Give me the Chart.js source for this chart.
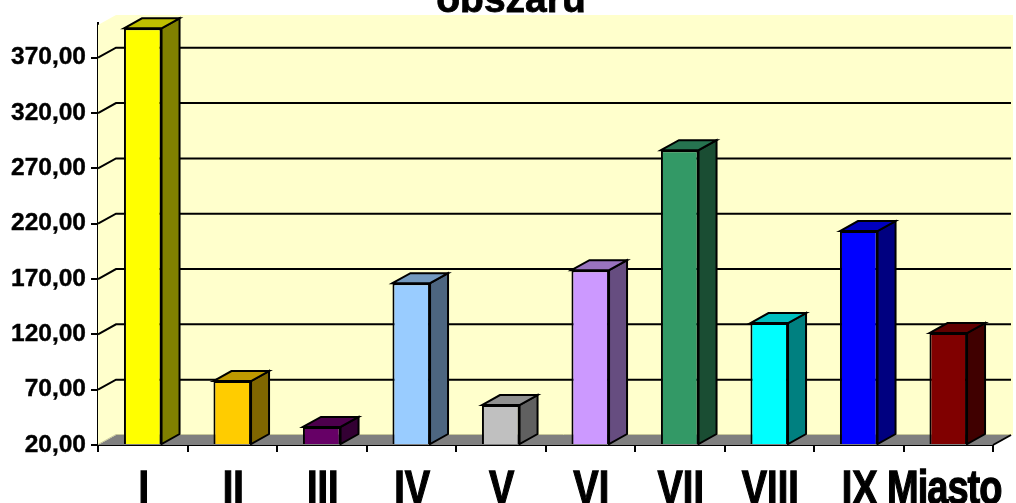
<!DOCTYPE html>
<html><head><meta charset="utf-8">
<style>html,body{margin:0;padding:0;background:#fff}#w{width:1016px;height:503px}</style>
<script src="https://cdn.jsdelivr.net/npm/chart.js@4"></script></head>
<body><div id="w"><canvas id="c" width="1016" height="503"></canvas></div>
<script>
const categories = ['I','II','III','IV','V','VI','VII','VIII','IX','Miasto'];
const values = [396.6,77.8,36.3,166.3,56.1,178,286.4,130.2,213.3,121.2];
const frontColors = ['#FFFF00','#FFCC00','#660066','#99CCFF','#C0C0C0','#CC99FF','#339966','#00FFFF','#0000FF','#800000'];
const sideColors = ['#808000','#806600','#330033','#4D6680','#606060','#664D80','#1A4D33','#008080','#000080','#400000'];
const topColors = ['#BFBF00','#BF9900','#4D004D','#7399BF','#909090','#9973BF','#267350','#00BFBF','#0000BF','#600000'];
const yTicks = [20,70,120,170,220,270,320,370];
const titleText = 'obszaru';
const DX = 18, DY = -10;

function poly(ctx, pts, fill, stroke){
  ctx.beginPath();
  pts.forEach((p,i)=> i?ctx.lineTo(p[0],p[1]):ctx.moveTo(p[0],p[1]));
  ctx.closePath();
  if(fill){ctx.fillStyle=fill;ctx.fill();}
  if(stroke){ctx.strokeStyle=stroke;ctx.lineWidth=2;ctx.lineJoin='miter';ctx.stroke();}
}
const depth3d = {
  id:'depth3d',
  beforeDatasetsDraw(chart){
    const {ctx,chartArea:a,scales:{x,y}} = chart;
    ctx.save();
    // walls
    poly(ctx,[[a.left+DX,a.top-8],[a.right+DX+2,a.top-8],[a.right+DX+2,a.bottom+DY],[a.left+DX,a.bottom+DY]],'#FFFFCC');
    poly(ctx,[[a.left,a.top+2],[a.left+DX,a.top-8],[a.left+DX,a.bottom+DY],[a.left,a.bottom]],'#FFFFCC');
    // floor
    poly(ctx,[[a.left,a.bottom],[a.left+DX,a.bottom+DY],[a.right+DX,a.bottom+DY],[a.right,a.bottom]],'#808080');
    ctx.strokeStyle='#C8C89A';ctx.lineWidth=1;
    ctx.beginPath();ctx.moveTo(a.left,a.bottom-0.5);ctx.lineTo(a.left+DX,a.bottom+DY-0.5);ctx.lineTo(a.right+DX,a.bottom+DY-0.5);ctx.stroke();
    ctx.strokeStyle='#000';ctx.lineWidth=2;
    // gridlines
    yTicks.forEach(v=>{
      if(v===yTicks[0]) return;
      const p=y.getPixelForValue(v);
      ctx.beginPath();ctx.moveTo(a.left,p);ctx.lineTo(a.left+DX,p+DY);ctx.lineTo(a.right+DX,p+DY);ctx.stroke();
    });
    ctx.beginPath();ctx.moveTo(a.right,a.bottom);ctx.lineTo(a.right+DX,a.bottom+DY);ctx.stroke();
    // depth faces of the bars
    chart.getDatasetMeta(0).data.forEach((b,i)=>{
      const l=b.x-b.width/2,r=b.x+b.width/2,t=b.y,base=b.base;
      poly(ctx,[[r,t],[r+DX,t+DY],[r+DX,base+DY],[r,base]],sideColors[i],'#000');
      poly(ctx,[[l,t],[l+DX,t+DY],[r+DX,t+DY],[r,t]],topColors[i],'#000');
    });
    ctx.restore();
  },
  afterDraw(chart){
    const {ctx,scales:{x}}=chart;
    ctx.save();
    ctx.fillStyle='#000';ctx.strokeStyle='#000';ctx.textAlign='center';ctx.textBaseline='alphabetic';
    ctx.font='bold 39px "Liberation Sans"';
    ctx.lineWidth=0.8;
    ctx.fillText(titleText,511,12);
    ctx.strokeText(titleText,511,12);
    // category labels: tall, narrow face as in the source
    ctx.font='bold 38px "Liberation Sans"';
    ctx.lineWidth=1;
    categories.forEach((c,i)=>{
      ctx.save();
      ctx.letterSpacing = c==='Miasto' ? '-1px' : '0px';
      ctx.translate(x.getPixelForValue(i)+(c==='Miasto'?-4:1),504);
      ctx.scale(1,1.26);
      ctx.fillText(c,0,0);
      ctx.strokeText(c,0,0);
      ctx.restore();
    });
    ctx.restore();
  }
};
new Chart(document.getElementById('c'),{
  type:'bar',
  data:{labels:categories,datasets:[{data:values,base:20,backgroundColor:frontColors,borderColor:'#000',borderWidth:2,barPercentage:0.42,categoryPercentage:1}]},
  plugins:[depth3d],
  options:{
    responsive:false,animation:false,
    layout:{padding:{top:23,right:23,left:0,bottom:0}},
    plugins:{legend:{display:false},title:{display:false},tooltip:{enabled:false}},
    scales:{
      x:{
        afterFit(s){s.height=58;s.paddingLeft=0;s.paddingRight=0;},
        grid:{drawOnChartArea:false,drawTicks:true,tickLength:7,color:'#000',lineWidth:2},
        border:{color:'#000',width:2},
        ticks:{display:false}
      },
      y:{
        min:20,max:401.4,
        afterFit(s){s.width=98;s.paddingTop=0;s.paddingBottom=0;},
        afterBuildTicks(s){s.ticks=yTicks.map(v=>({value:v}));},
        grid:{drawOnChartArea:false,drawTicks:true,tickLength:7,color:'#000',lineWidth:2},
        border:{color:'#000',width:2},
        ticks:{color:'#000',padding:5,textStrokeColor:'#000',textStrokeWidth:0.4,font:{family:'"Liberation Sans"',weight:'bold',size:24.5},
          callback:v=>v.toFixed(2).replace('.',',')}
      }
    }
  }
});
</script></body></html>
